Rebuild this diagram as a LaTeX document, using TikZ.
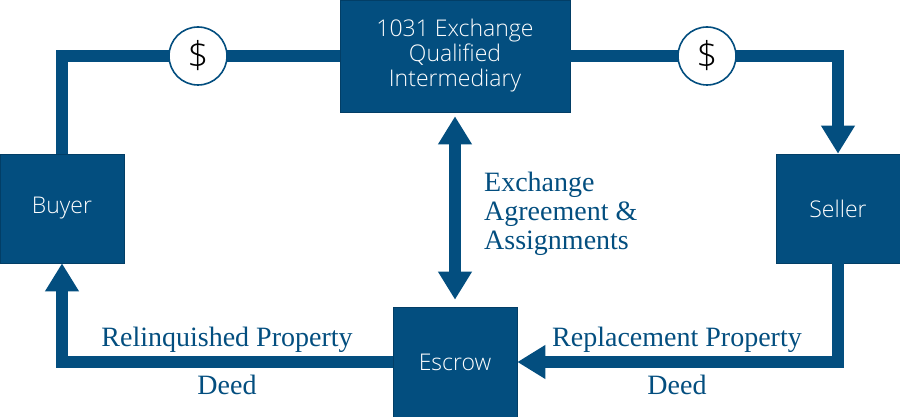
\documentclass[tikz,border=0pt]{standalone}
\usepackage{fontspec}
\usetikzlibrary{arrows.meta}
\setmainfont{Liberation Serif}
\newfontfamily\boxfont{Open Sans Light}
\definecolor{navy}{HTML}{034E7F}
\tikzset{
  x=1pt, y=-1pt,
  block/.style={fill=navy, draw=navy!80!black, line width=0.6pt, inner sep=0pt, text=white,
    font=\boxfont\fontsize{23}{25}\selectfont, align=center},
  flow/.style={draw=navy, line width=12pt, line join=miter},
  tip/.style={-{Triangle[length=28pt,width=32pt]}},
  twotip/.style={{Triangle[length=28pt,width=32pt]}-{Triangle[length=28pt,width=32pt]}},
  coin/.style={circle, minimum size=58pt, inner sep=0pt, fill=white, draw=navy, line width=1.6pt,
    font=\boxfont\fontsize{37}{37}\selectfont, text=black},
  caption/.style={text=navy, inner sep=0pt, font=\fontsize{28}{29}\selectfont, align=left}
}
\begin{document}
\begin{tikzpicture}
\useasboundingbox (0,0) rectangle (900,417);
% parties and intermediary
\node[block, minimum width=230pt, minimum height=112pt] (qi) at (455,56) {1031 Exchange\\Qualified\\Intermediary};
\node[block, minimum width=124pt, minimum height=109pt] (buyer) at (62,208.5) {Buyer};
\node[block, minimum width=124pt, minimum height=109pt] (seller) at (838,208.5) {Seller};
\node[block, minimum width=124pt, minimum height=110pt] (escrow) at (455,362) {Escrow};
% flows
\begin{scope}[on background layer/.style={}]
\draw[flow] (buyer.north) |- (qi.west);
\draw[flow, tip] (qi.east) -| (seller.north);
\draw[flow, tip] (seller.south) |- (escrow.east);
\draw[flow, tip] (escrow.west) -| (buyer.south);
\draw[flow, twotip, shorten <=4pt, shorten >=7pt] (qi.south) -- (escrow.north);
\end{scope}
% payment markers
\node[coin] (payleft) at (198,56) {\$};
\node[coin] (payright) at (707,56) {\$};
% captions
\node[caption, anchor=north west] (agreement) at (484,172) {Exchange\\Agreement \&\\Assignments};
\node[caption, anchor=base] (relinquished) at (227,346) {Relinquished Property};
\node[caption, anchor=base] (replacement) at (677,346) {Replacement Property};
\node[caption, anchor=base] (deedleft) at (227,394) {Deed};
\node[caption, anchor=base] (deedright) at (677,394) {Deed};
\end{tikzpicture}
\end{document}
